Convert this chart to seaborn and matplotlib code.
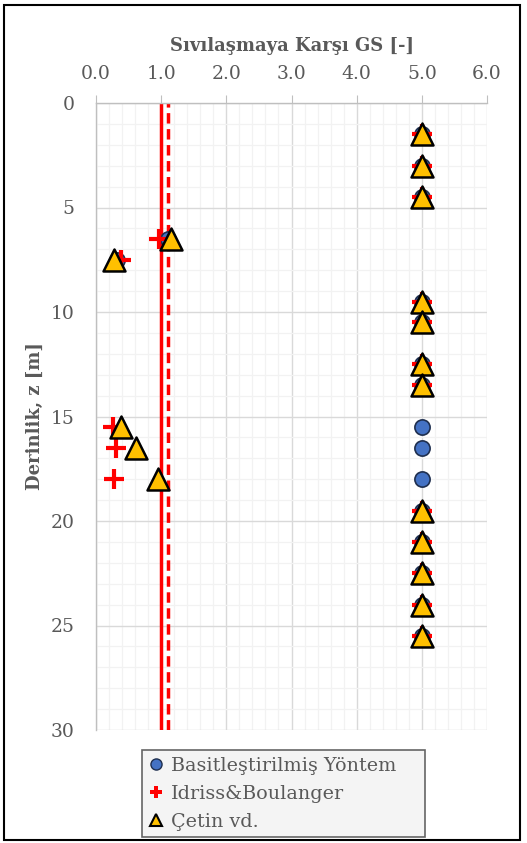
import numpy as np
import pandas as pd
import matplotlib
matplotlib.use("Agg")
import matplotlib.pyplot as plt
from matplotlib.lines import Line2D
from matplotlib.ticker import MultipleLocator
import seaborn as sns

# Données
derinlik = [1.5, 3.0, 4.5, 6.5, 7.5, 9.5, 10.5, 12.5, 13.5, 15.5, 16.5, 18.0,
            19.5, 21.0, 22.5, 24.0, 25.5]
gs_basit = [5.0, 5.0, 5.0, 1.1, 0.32, 5.0, 5.0, 5.0, 5.0, 5.0, 5.0, 5.0,
            5.0, 5.0, 5.0, 5.0, 5.0]
gs_idriss = [5.0, 5.0, 5.0, 0.97, 0.38, 5.0, 5.0, 5.0, 5.0, 0.26, 0.30, 0.28,
             5.0, 5.0, 5.0, 5.0, 5.0]
gs_cetin = [5.0, 5.0, 5.0, 1.15, 0.27, 5.0, 5.0, 5.0, 5.0, 0.38, 0.61, 0.95,
            5.0, 5.0, 5.0, 5.0, 5.0]
gs_sinir = [1.0, 1.1]
x_ticks = [0, 1, 2, 3, 4, 5, 6]
y_ticks = [0, 5, 10, 15, 20, 25, 30]

df = pd.DataFrame({"z": derinlik, "basit": gs_basit,
                   "idriss": gs_idriss, "cetin": gs_cetin})

sns.set_style("white")
plt.rcParams["font.family"] = ["DejaVu Serif"]
gri = "#595959"

fig = plt.figure(figsize=(5.27, 8.43), dpi=100)
ax = fig.add_axes([96 / 527, 1 - 730 / 843, 391 / 527, 627 / 843])

# Sınır çizgileri
ax.axvline(gs_sinir[0], color="#ff0000", lw=2.5, zorder=2)
ax.axvline(gs_sinir[1], color="#ff0000", lw=2.5, ls=(0, (3, 1.6)), zorder=2)

sns.scatterplot(data=df, x="basit", y="z", ax=ax, marker="o", s=120,
                color="#4472c4", edgecolor="#1f2f4f", linewidth=1.2, zorder=3)
sns.scatterplot(data=df, x="idriss", y="z", ax=ax, marker="+", s=190,
                color="#ff0000", linewidth=3, zorder=4)
sns.scatterplot(data=df, x="cetin", y="z", ax=ax, marker="^", s=250,
                color="#ffc000", edgecolor="black", linewidth=1.8, zorder=5)

ax.set_xlim(0, 6)
ax.set_ylim(30, 0)
ax.set_xticks(x_ticks)
ax.set_xticklabels([f"{v:.1f}" for v in x_ticks])
ax.set_yticks(y_ticks)
ax.xaxis.set_minor_locator(MultipleLocator(0.2))
ax.yaxis.set_minor_locator(MultipleLocator(1))
ax.xaxis.tick_top()
ax.xaxis.set_label_position("top")

ax.grid(which="major", color="#d9d9d9", lw=1.0, zorder=0)
ax.grid(which="minor", color="#f2f2f2", lw=0.9, zorder=0)
ax.set_axisbelow(True)

for s in ["right", "bottom"]:
    ax.spines[s].set_visible(False)
for s in ["top", "left"]:
    ax.spines[s].set_color("#bfbfbf")
    ax.spines[s].set_linewidth(1.0)

ax.tick_params(axis="both", which="major", direction="out", length=5.5,
               color="#bfbfbf", labelsize=13.5, labelcolor=gri)
ax.tick_params(axis="x", which="major", pad=9)
ax.tick_params(axis="y", which="major", pad=10)
ax.tick_params(axis="both", which="minor", length=0)

ax.set_xlabel("Sıvılaşmaya Karşı GS [-]", fontsize=13, fontweight="bold",
              color=gri, labelpad=10)
ax.set_ylabel("Derinlik, z [m]", fontsize=13, fontweight="bold",
              color=gri, labelpad=5)

handles = [
    Line2D([], [], ls="none", marker="o", ms=8, mfc="#4472c4", mec="#1f2f4f", mew=1),
    Line2D([], [], ls="none", marker="P", ms=8, mfc="#ff0000", mec="#ff0000", mew=0),
    Line2D([], [], ls="none", marker="^", ms=8, mfc="#ffc000", mec="black", mew=1.5),
]
labels = ["Basitleştirilmiş Yöntem", "Idriss&Boulanger", "Çetin vd."]
leg = fig.legend(handles, labels, loc="upper left", mode="expand",
                 bbox_to_anchor=(142 / 527, 1 - 837 / 843, 283 / 527, 87 / 843),
                 frameon=True, fancybox=False, fontsize=13.8,
                 handlelength=0.8, handletextpad=0.35, labelspacing=0.52,
                 borderpad=0.35, borderaxespad=0)
leg.get_frame().set_facecolor("#f2f2f2")
leg.get_frame().set_edgecolor("#404040")
leg.get_frame().set_linewidth(1.2)
for t in leg.get_texts():
    t.set_color(gri)

# Cadre de la figure
fig.patches.append(plt.Rectangle((0.008, 0.004), 0.978, 0.99, transform=fig.transFigure,
                                 fill=False, edgecolor="black", lw=1.5))

fig.savefig("out.png", dpi=100)
